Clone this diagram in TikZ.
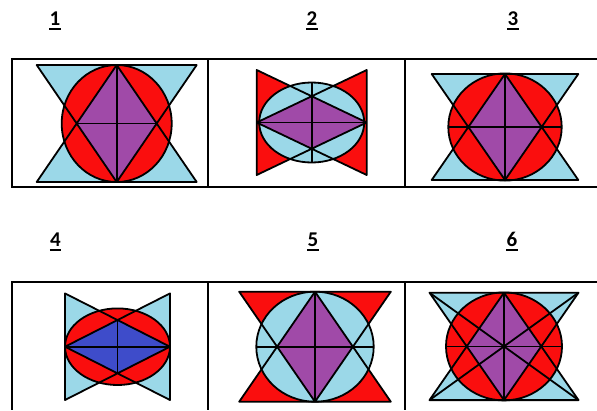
\documentclass[tikz,border=0pt]{standalone}
\usepackage{fontspec}
\newfontfamily\digitfont{Carlito}
\usetikzlibrary{calc}
\definecolor{paleblue}{RGB}{155,216,232}
\definecolor{brightred}{RGB}{250,14,14}
\definecolor{plum}{RGB}{160,74,168}
\definecolor{royal}{RGB}{62,76,202}

\begin{document}
\begin{tikzpicture}[
  x=1pt, y=-1pt,
  frame/.style={line width=2.6pt},
  outline/.style={line width=1.8pt, line join=round},
  digit/.style={font=\fontsize{21}{25}\selectfont\digitfont\bfseries, inner sep=0pt, anchor=base},
  uline/.style={line width=1.8pt},
]
  \useasboundingbox (0,0) rectangle (597,410);

  % Labels above each cell
  \node[digit] (lab1) at (55,25) {1};
  \node[digit] (lab2) at (312,25) {2};
  \node[digit] (lab3) at (513,25) {3};
  \node[digit] (lab4) at (55.5,246) {4};
  \node[digit] (lab5) at (313,246) {5};
  \node[digit] (lab6) at (512,246) {6};
  \foreach \n in {lab1,lab2,lab3,lab4,lab5,lab6} {
    \draw[uline] ([yshift=-4pt]\n.base west) -- ([yshift=-4pt]\n.base east);
  }

  % Table frames
  \draw[frame] (597,59) -- (12,59) -- (12,187) -- (597,187);
  \draw[frame] (208,59) -- (208,187) (405,59) -- (405,187);
  \draw[frame] (597,282) -- (12,282) -- (12,410);
  \draw[frame] (208,282) -- (208,410) (405,282) -- (405,410);

  % Upright cells: two crossed triangles, disc, diamond, cross
  \foreach \cx/\cy/\w/\h/\rx/\ry/\tri/\disc/\hl in {
      116.7/123.5/80/58.5/55/58.5/paleblue/brightred/40,
      505/127/73.3/53/56.7/53.6/paleblue/brightred/56.7,
      315/346.7/75.8/55/58.7/55/brightred/paleblue/58.7,
      504/346.4/74.5/53.7/58/54/paleblue/brightred/58} {
    \begin{scope}[shift={(\cx,\cy)}]
      \fill[\tri] (-\w,-\h) -- (\w,-\h) -- (0,\h) -- cycle;
      \fill[\tri] (-\w,\h) -- (\w,\h) -- (0,-\h) -- cycle;
      \fill[\disc] (0,0) ellipse (\rx pt and \ry pt);
      \fill[plum] (0,-\h) -- (\w/2,0) -- (0,\h) -- (-\w/2,0) -- cycle;
      \draw[outline] (-\w,-\h) -- (\w,-\h) -- (0,\h) -- cycle
                     (-\w,\h) -- (\w,\h) -- (0,-\h) -- cycle;
      \draw[outline] (0,0) ellipse (\rx pt and \ry pt);
      \draw[outline] (0,-\h) -- (0,\h) (-\hl,0) -- (\hl,0);
    \end{scope}
  }
  % extra corner diagonals in cell 6
  \draw[outline] (504-74.5,346.4-53.7) -- (504+74.5,346.4+53.7)
                 (504+74.5,346.4-53.7) -- (504-74.5,346.4+53.7);

  % Sideways cells: bow tie, disc, diamond, cross
  \foreach \cx/\cy/\w/\h/\rx/\ry/\tri/\disc/\dia/\vl in {
      311.7/122.5/55/52.5/52.5/40/brightred/paleblue/plum/40,
      117.5/346.7/52.5/53.3/52.5/38.3/paleblue/brightred/royal/26.7} {
    \begin{scope}[shift={(\cx,\cy)}]
      \fill[\tri] (-\w,-\h) -- (-\w,\h) -- (\w,0) -- cycle;
      \fill[\tri] (\w,-\h) -- (\w,\h) -- (-\w,0) -- cycle;
      \fill[\disc] (0,0) ellipse (\rx pt and \ry pt);
      \fill[\dia] (-\w,0) -- (0,-\h/2) -- (\w,0) -- (0,\h/2) -- cycle;
      \draw[outline] (-\w,-\h) -- (-\w,\h) -- (\w,0) -- cycle
                     (\w,-\h) -- (\w,\h) -- (-\w,0) -- cycle;
      \draw[outline] (0,0) ellipse (\rx pt and \ry pt);
      \draw[outline] (0,-\vl) -- (0,\vl) (-\w,0) -- (\w,0);
    \end{scope}
  }
\end{tikzpicture}
\end{document}
